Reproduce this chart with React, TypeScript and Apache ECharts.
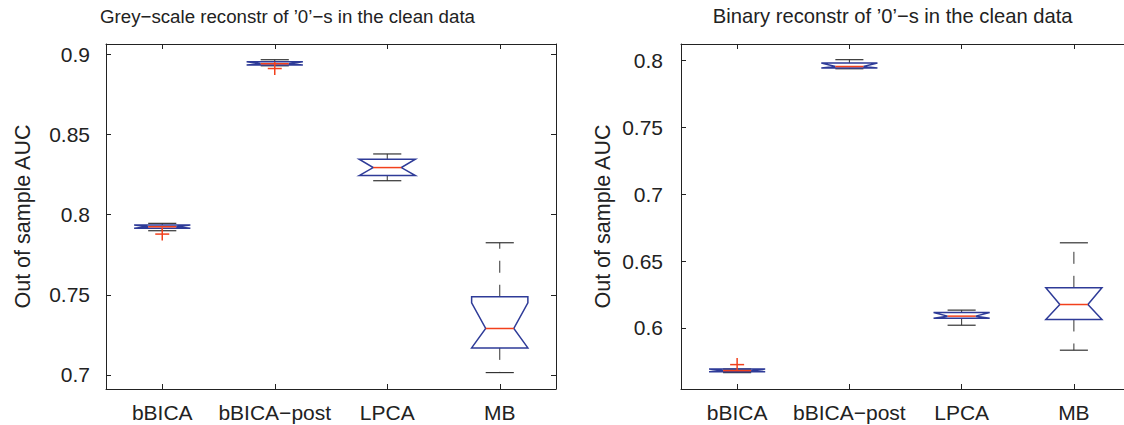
import React, { useEffect, useRef } from "react";
import * as echarts from "echarts";

const methods = ["bBICA", "bBICA\u2212post", "LPCA", "MB"];

// Grey-scale reconstruction: box summaries per method
const greyLowerWhisker = [0.79, 0.8929, 0.8212, 0.7015];
const greyQ1 = [0.7915, 0.8934, 0.8244, 0.7169];
const greyNotchLow = [0.7915, 0.8934, 0.8244, 0.7169];
const greyMedian = [0.7925, 0.8942, 0.8294, 0.729];
const greyNotchHigh = [0.7936, 0.8954, 0.8346, 0.745];
const greyQ3 = [0.7936, 0.8954, 0.8346, 0.7488];
const greyUpperWhisker = [0.7946, 0.8967, 0.8379, 0.7825];
const greyOutliers = [
  [0, 0.7879],
  [1, 0.8912],
];
const greyTicks = [0.7, 0.75, 0.8, 0.85, 0.9];
const greyRange = [0.69125, 0.9065];

// Binary reconstruction: box summaries per method
const binLowerWhisker = [0.5665, 0.794, 0.602, 0.5833];
const binQ1 = [0.5672, 0.7945, 0.6073, 0.6063];
const binNotchLow = [0.5672, 0.7945, 0.6073, 0.6063];
const binMedian = [0.568, 0.7957, 0.6088, 0.6175];
const binNotchHigh = [0.5692, 0.7983, 0.6115, 0.63];
const binQ3 = [0.5692, 0.7983, 0.6115, 0.63];
const binUpperWhisker = [0.5692, 0.8008, 0.6133, 0.6637];
const binOutliers = [[0, 0.5725]];
const binTicks = [0.6, 0.65, 0.7, 0.75, 0.8];
const binRange = [0.55425, 0.81253];

const FONT = "'Liberation Sans', Arial, Helvetica, sans-serif";
const BLUE = "#2e3b98";
const RED = "#f2401c";
const INK = "#222";
const LABEL_SIZE = 21;

function boxRows(lo: number[], q1: number[], nLo: number[], med: number[], nHi: number[], q3: number[], hi: number[]) {
  return methods.map((_, i) => [i, lo[i], q1[i], nLo[i], med[i], nHi[i], q3[i], hi[i]]);
}

// Notched box with dashed whiskers, drawn the way MATLAB's boxplot outlines it
function renderBox(_params: any, api: any) {
  const idx = api.value(0);
  const band = api.size([1, 0])[0];
  const hw = band * 0.25;
  const cap = band * 0.125;
  const yAt = (d: number) => api.coord([idx, api.value(d)])[1];
  const cx = api.coord([idx, api.value(4)])[0];
  const yWLo = yAt(1), yQ1 = yAt(2), yNLo = yAt(3), yMed = yAt(4), yNHi = yAt(5), yQ3 = yAt(6), yWHi = yAt(7);
  const whisker = { stroke: "#333", lineWidth: 1, lineDash: [12, 12] };
  const solid = { stroke: "#333", lineWidth: 1.2 };
  const children: any[] = [];
  if (yWHi < yQ3 - 0.5) {
    children.push({ type: "line", shape: { x1: cx, y1: yQ3, x2: cx, y2: yWHi }, style: whisker });
  }
  if (yWLo > yQ1 + 0.5) {
    children.push({ type: "line", shape: { x1: cx, y1: yQ1, x2: cx, y2: yWLo }, style: whisker });
  }
  children.push({ type: "line", shape: { x1: cx - cap, y1: yWHi, x2: cx + cap, y2: yWHi }, style: solid });
  children.push({ type: "line", shape: { x1: cx - cap, y1: yWLo, x2: cx + cap, y2: yWLo }, style: solid });
  children.push({
    type: "polygon",
    shape: {
      points: [
        [cx - hw, yQ1],
        [cx - hw, yNLo],
        [cx - hw / 2, yMed],
        [cx - hw, yNHi],
        [cx - hw, yQ3],
        [cx + hw, yQ3],
        [cx + hw, yNHi],
        [cx + hw / 2, yMed],
        [cx + hw, yNLo],
        [cx + hw, yQ1],
      ],
    },
    style: { fill: "none", stroke: BLUE, lineWidth: 1.5 },
  });
  children.push({
    type: "line",
    shape: { x1: cx - hw / 2, y1: yMed, x2: cx + hw / 2, y2: yMed },
    style: { stroke: RED, lineWidth: 1.5 },
  });
  return { type: "group", children };
}

// Outliers as red "+" markers
function renderOutlier(_params: any, api: any) {
  const [x, y] = api.coord([api.value(0), api.value(1)]);
  const style = { stroke: RED, lineWidth: 1.5 };
  return {
    type: "group",
    children: [
      { type: "line", shape: { x1: x - 7, y1: y, x2: x + 7, y2: y }, style },
      { type: "line", shape: { x1: x, y1: y - 6.5, x2: x, y2: y + 6.5 }, style },
    ],
  };
}

const fmt = (v: number) => String(+v.toFixed(2));

function xAxes(gridIndex: number) {
  const common = {
    type: "category" as const,
    gridIndex,
    data: methods,
    axisLine: { show: true, lineStyle: { color: INK, width: 1 } },
    axisTick: { show: true, inside: true, alignWithLabel: true, length: 5, lineStyle: { color: INK } },
    splitLine: { show: false },
  };
  return [
    {
      ...common,
      position: "bottom",
      axisLabel: { show: true, interval: 0, hideOverlap: false, margin: 13, fontSize: LABEL_SIZE, fontFamily: FONT, color: INK },
    },
    { ...common, position: "top", axisLabel: { show: false } },
  ];
}

function yAxes(gridIndex: number, range: number[], ticks: number[], margin: number) {
  const common = {
    type: "value" as const,
    gridIndex,
    min: range[0],
    max: range[1],
    axisLine: { show: true, lineStyle: { color: INK, width: 1 } },
    axisTick: { show: true, inside: true, length: 5, customValues: ticks, lineStyle: { color: INK } },
    splitLine: { show: false },
  };
  return [
    {
      ...common,
      position: "left",
      axisLabel: { show: true, customValues: ticks, formatter: fmt, margin, fontSize: LABEL_SIZE, fontFamily: FONT, color: INK },
    },
    { ...common, position: "right", axisLabel: { show: false } },
  ];
}

function textEl(text: string, x: number, y: number, size: number, rotation = 0) {
  return {
    type: "text",
    x,
    y,
    rotation,
    style: { text, fontSize: size, fontFamily: FONT, fill: INK, align: "center", verticalAlign: "middle" },
  };
}

export default function App() {
  const ref = useRef<HTMLDivElement>(null);
  useEffect(() => {
    if (!ref.current) return;
    const chart = echarts.init(ref.current, undefined, { renderer: "svg" });
    chart.setOption({
      animation: false,
      backgroundColor: "#fff",
      grid: [
        { left: 106, top: 44, width: 450, height: 345, outerBoundsMode: "none", containLabel: false },
        { left: 681, top: 44, width: 449, height: 345, outerBoundsMode: "none", containLabel: false },
      ],
      xAxis: [...xAxes(0), ...xAxes(1)],
      yAxis: [...yAxes(0, greyRange, greyTicks, 16), ...yAxes(1, binRange, binTicks, 18)],
      series: [
        {
          type: "custom",
          xAxisIndex: 0,
          yAxisIndex: 0,
          renderItem: renderBox,
          encode: { x: 0, y: [1, 2, 3, 4, 5, 6, 7] },
          data: boxRows(greyLowerWhisker, greyQ1, greyNotchLow, greyMedian, greyNotchHigh, greyQ3, greyUpperWhisker),
        },
        {
          type: "custom",
          xAxisIndex: 0,
          yAxisIndex: 0,
          renderItem: renderOutlier,
          encode: { x: 0, y: 1 },
          data: greyOutliers,
        },
        {
          type: "custom",
          xAxisIndex: 2,
          yAxisIndex: 2,
          renderItem: renderBox,
          encode: { x: 0, y: [1, 2, 3, 4, 5, 6, 7] },
          data: boxRows(binLowerWhisker, binQ1, binNotchLow, binMedian, binNotchHigh, binQ3, binUpperWhisker),
        },
        {
          type: "custom",
          xAxisIndex: 2,
          yAxisIndex: 2,
          renderItem: renderOutlier,
          encode: { x: 0, y: 1 },
          data: binOutliers,
        },
      ],
      graphic: [
        textEl("Grey\u2212scale reconstr of \u20190\u2019\u2212s in the clean data", 287.5, 16.4, 18.7),
        textEl("Binary reconstr of \u20190\u2019\u2212s in the clean data", 892.7, 15.8, 20.2),
        textEl("Out of sample AUC", 22.5, 216.5, 21.5, Math.PI / 2),
        textEl("Out of sample AUC", 602.5, 216.5, 21.5, Math.PI / 2),
      ],
    });
    return () => chart.dispose();
  }, []);
  return (
    <div style={{ position: "absolute", left: 0, top: 0, width: 1124, height: 425, overflow: "hidden", background: "#fff" }}>
      <div ref={ref} style={{ width: 1140, height: 425 }} />
    </div>
  );
}
